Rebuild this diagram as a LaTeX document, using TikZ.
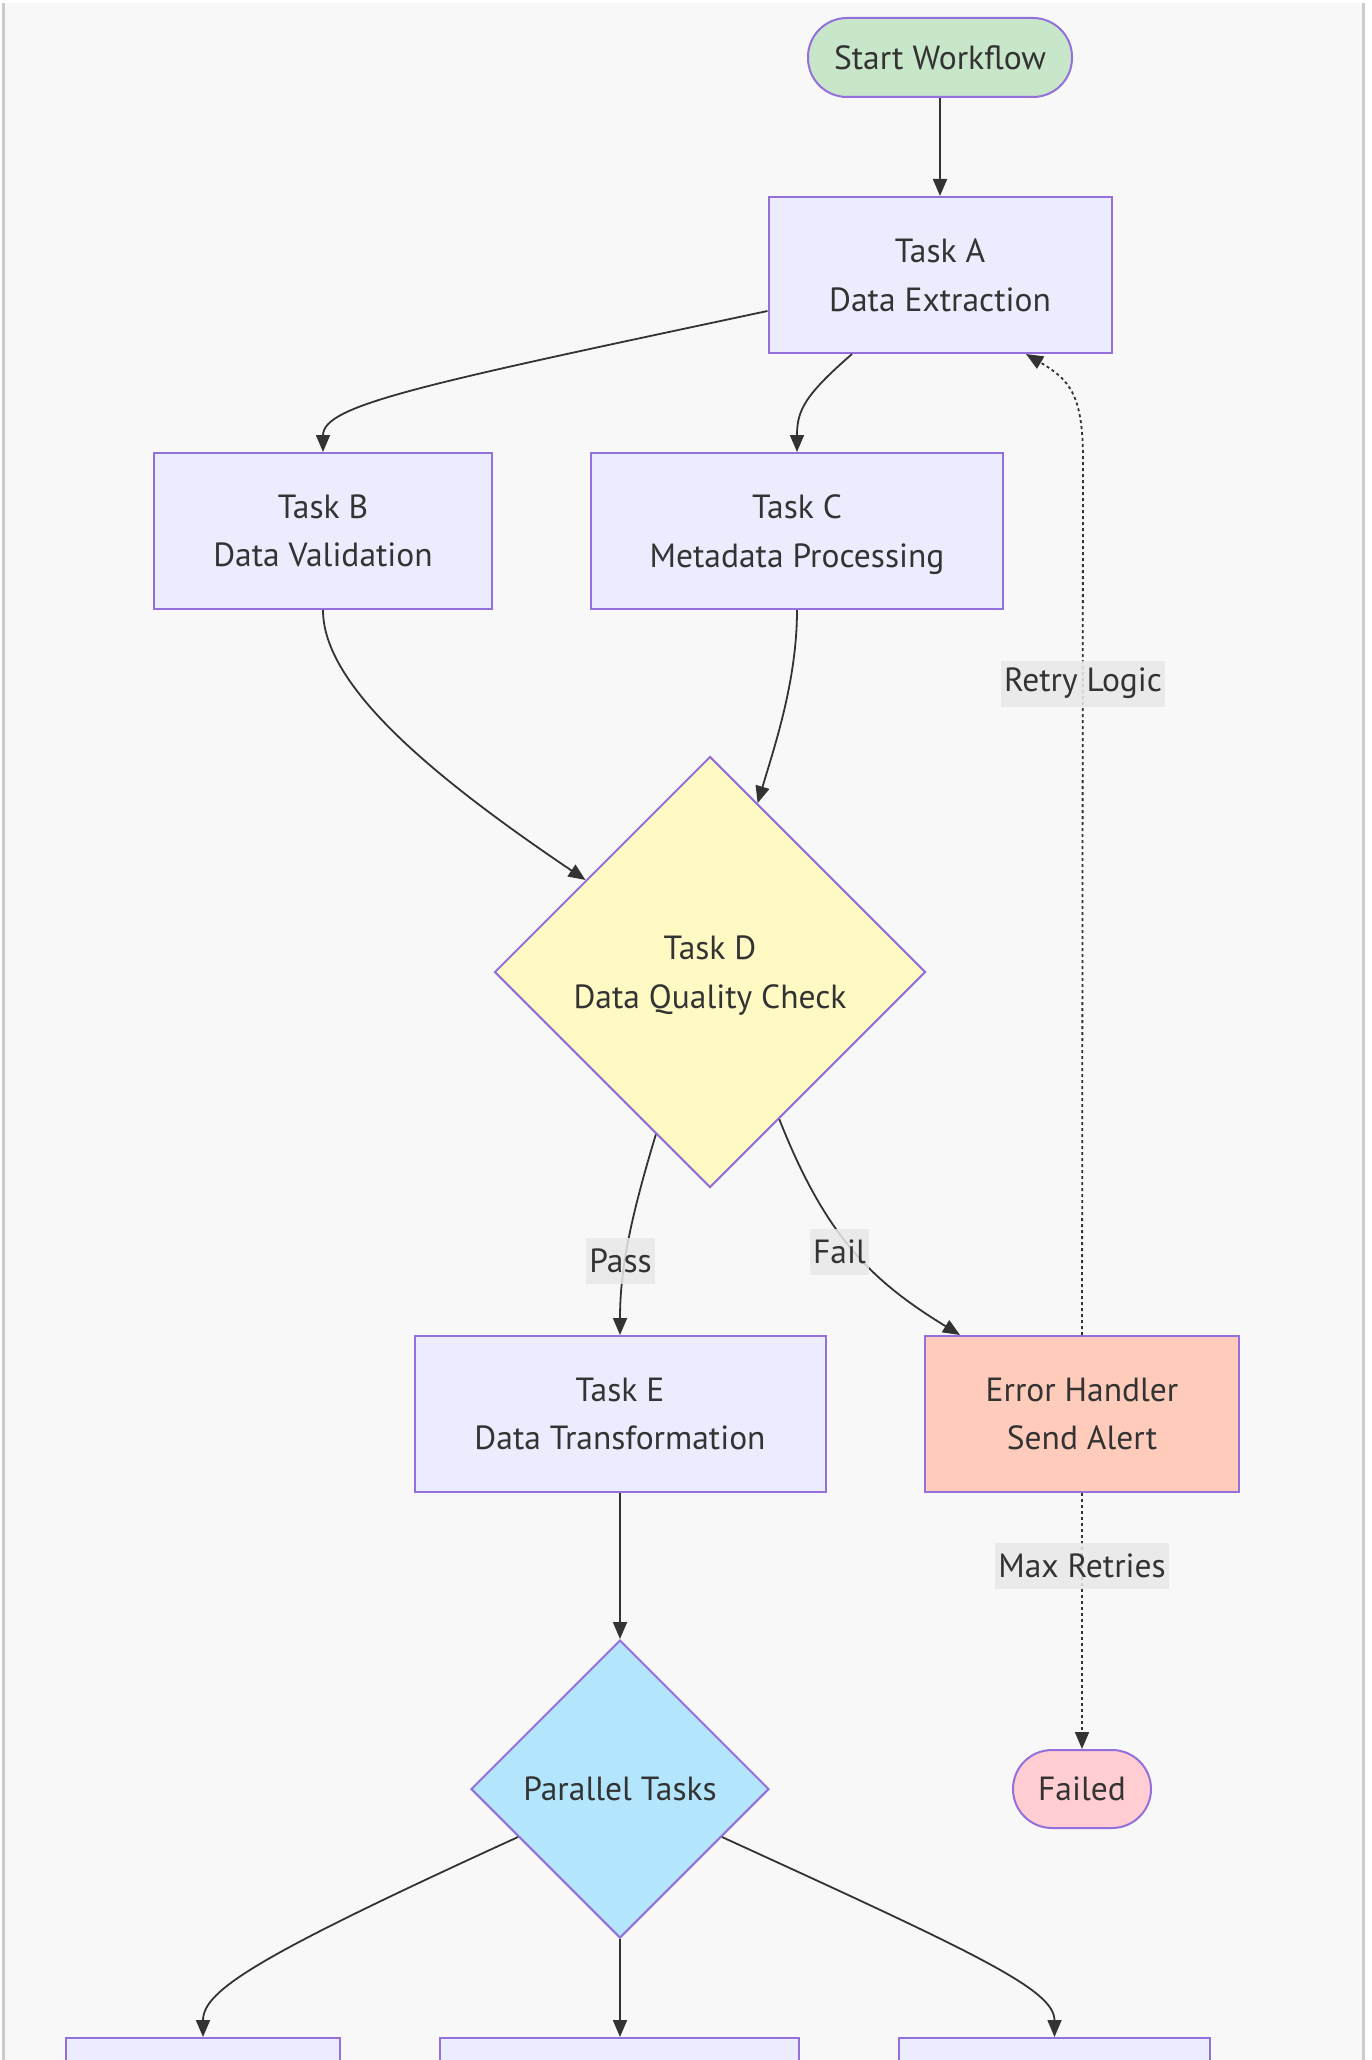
\documentclass[tikz,border=0pt]{standalone}
\usepackage{fontspec}
\usetikzlibrary{shapes.geometric,arrows.meta,calc}
\newfontfamily\diagfont{PT Sans}
\definecolor{pagebg}{HTML}{F8F8F8}
\definecolor{edgegray}{HTML}{CCCCCC}
\definecolor{boxfill}{HTML}{ECECFF}
\definecolor{boxline}{HTML}{9370DB}
\definecolor{ink}{HTML}{333333}
\definecolor{lblfill}{HTML}{E8E8E8}
\definecolor{startfill}{HTML}{C8E6C9}
\definecolor{checkfill}{HTML}{FFF9C4}
\definecolor{parfill}{HTML}{B3E5FC}
\definecolor{errfill}{HTML}{FFCCBC}
\definecolor{failfill}{HTML}{FFCDD2}
\tikzset{
  txt/.style={font=\diagfont\fontsize{33.5}{48.6}\selectfont, text=ink, align=center},
  taskbox/.style={txt, draw=boxline, line width=2pt, fill=boxfill, rectangle,
    inner sep=0pt, minimum height=156pt},
  pill/.style={txt, draw=boxline, line width=2pt, rectangle, rounded corners=39pt,
    inner sep=0pt, minimum height=79pt},
  gate/.style={txt, draw=boxline, line width=2pt, diamond, aspect=1, inner sep=0pt},
  lbl/.style={txt, fill=lblfill, fill opacity=0.85, text opacity=1,
    inner xsep=3pt, inner ysep=0pt, minimum height=46pt},
  arr/.style={draw=ink, line width=1.8pt, -{Triangle[length=17pt,width=14pt]}},
  dotarr/.style={arr, dash pattern=on 3pt off 3pt}
}
\begin{document}
\begin{tikzpicture}[x=1pt,y=-1pt]
\useasboundingbox (0,0) rectangle (1372,2060);
\clip (0,0) rectangle (1372,2060);
% page background and side rules
\fill[white] (0,0) rectangle (1372,2060);
\fill[pagebg] (2,3) rectangle (1365,2060);
\fill[edgegray] (2,3) rectangle (5,2060);
\fill[edgegray] (1362,3) rectangle (1365,2060);

% nodes
\node[pill, fill=startfill, minimum width=264pt] (start) at (940,57.5) {Start Workflow};
\node[taskbox, minimum width=343pt] (A) at (940,275) {Task A\\Data Extraction};
\node[taskbox, minimum width=338pt] (B) at (323,531) {Task B\\Data Validation};
\node[taskbox, minimum width=412pt] (C) at (797,531) {Task C\\\smash{Metadata Processing}};
\node[gate, fill=checkfill, minimum width=431pt, minimum height=431pt] (D) at (710,972) {Task D\\\smash{Data Quality Check}};
\node[taskbox, minimum width=411pt] (E) at (620,1414) {Task E\\Data Transformation};
\node[taskbox, fill=errfill, minimum width=314pt] (H) at (1082,1414) {Error Handler\\Send Alert};
\node[gate, fill=parfill, minimum width=298pt, minimum height=298pt] (P) at (620,1789) {Parallel Tasks};
\node[pill, fill=failfill, minimum width=138pt, minimum height=78pt] (F) at (1082,1789) {Failed};
\node[taskbox, minimum width=274pt] (b1) at (203,2116) {};
\node[taskbox, minimum width=359pt] (b2) at (619.5,2116) {};
\node[taskbox, minimum width=311pt] (b3) at (1054.5,2116) {};

% connectors
\draw[arr] (start) -- (A);
\draw[arr] ([yshift=-36pt]A.west) .. controls (420,385) and (323,405) .. (B.north);
\draw[arr] ([xshift=-88pt]A.south) .. controls (805,395) and (797,410) .. (C.north);
\draw[arr] (B.south) .. controls (323,685) and (430,775) .. ($(D.north)!0.575!(D.west)$);
\draw[arr] (C.south) .. controls (797,680) and (775,745) .. ($(D.north)!0.22!(D.east)$);
\draw[arr] ($(D.south)!0.25!(D.west)$) .. controls (630,1220) and (620,1270) .. (E.north);
\draw[arr] ($(D.south)!0.32!(D.east)$) .. controls (825,1235) and (870,1280) .. ([xshift=-122pt]H.north);
\draw[dotarr] (H.north) -- (1083,460) .. controls (1083,395) and (1070,380) .. ([xshift=86pt]A.south);
\draw[dotarr] (H.south) -- (F.north);
\draw[arr] (E) -- (P);
\draw[arr] ($(P.west)!0.32!(P.south)$) .. controls (260,1955) and (203,1990) .. (b1.north);
\draw[arr] (P.south) -- (P.south |- b2.north);
\draw[arr] ($(P.east)!0.32!(P.south)$) .. controls (980,1955) and (1054.5,1990) .. (b3.north);

% edge labels
\node[lbl] (lpass) at (620.5,1261) {Pass};
\node[lbl] (lfail) at (839.5,1252) {Fail};
\node[lbl] (lretry) at (1083,683.5) {Retry Logic};
\node[lbl] (lmax) at (1082,1565.5) {Max Retries};
\end{tikzpicture}
\end{document}
